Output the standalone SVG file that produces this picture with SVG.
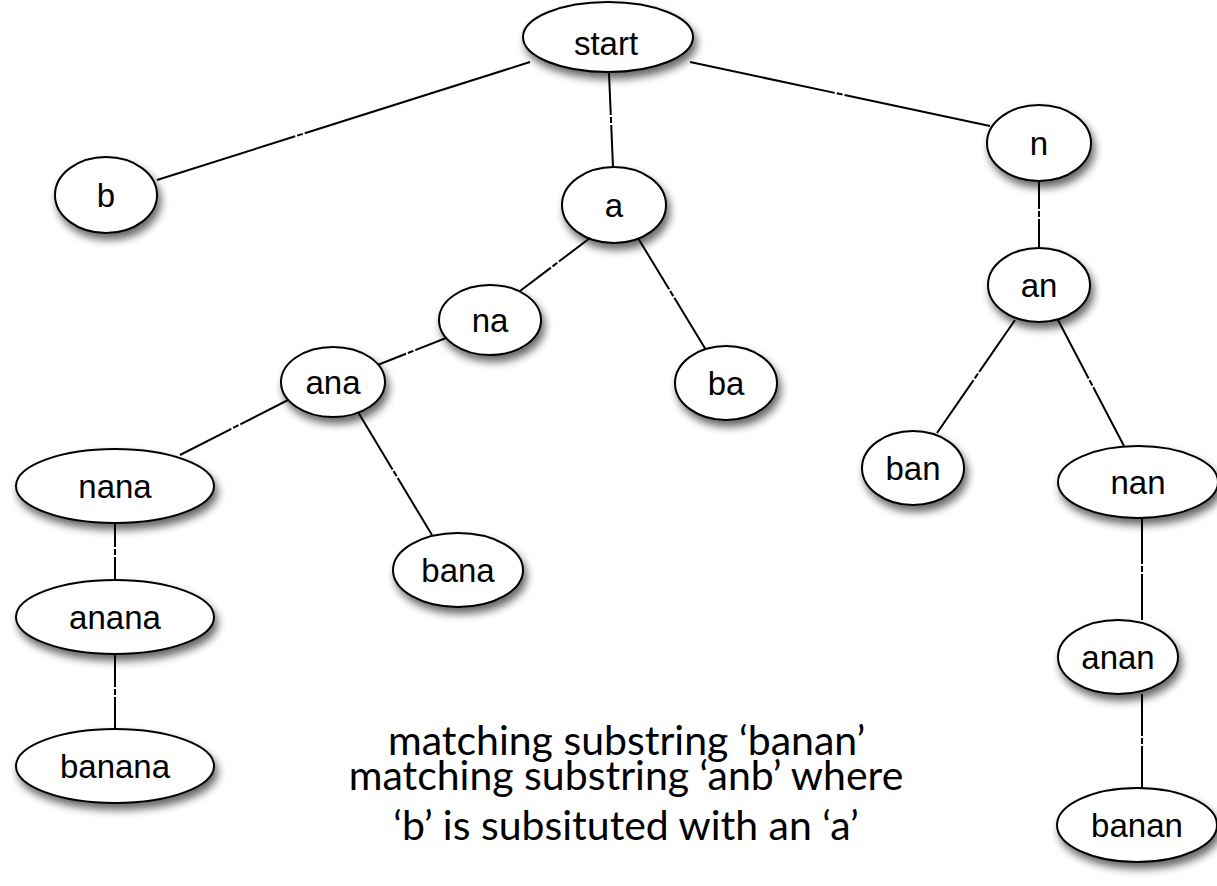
<svg xmlns="http://www.w3.org/2000/svg" width="1217" height="886" viewBox="0 0 1217 886">
  <style>
    .edge { stroke: #000; stroke-width: 2; fill: none; }
    .node ellipse { fill: #fff; stroke: #000; stroke-width: 2; filter: url(#shadow); }
    .node text { font-family: "Liberation Sans", Arial, sans-serif; font-size: 33px; fill: #000; text-anchor: middle; }
    .caption { font-family: Lato, "Open Sans", sans-serif; font-size: 41px; fill: #000; }
    .mid { text-anchor: middle; }
  </style>
  <defs>
    <filter id="shadow" x="-30%" y="-30%" width="160%" height="170%">
      <feGaussianBlur in="SourceAlpha" stdDeviation="4"/>
      <feOffset dx="3" dy="6" result="blur"/>
      <feComponentTransfer><feFuncA type="linear" slope="0.6"/></feComponentTransfer>
      <feMerge><feMergeNode/><feMergeNode in="SourceGraphic"/></feMerge>
    </filter>
  </defs>
  <rect width="1217" height="886" fill="#fff"/>

  <!-- tree edges, each with a small break near its middle -->
  <g id="edges">
    <line class="edge" x1="157" y1="180" x2="530" y2="62" stroke-dasharray="145 2 6 2 1000"/>
    <line class="edge" x1="609" y1="73" x2="613" y2="167" stroke-dasharray="42 2 6 2 1000"/>
    <line class="edge" x1="690" y1="62" x2="990" y2="126" stroke-dasharray="148 2 6 2 1000"/>
    <line class="edge" x1="590" y1="238" x2="520" y2="291" stroke-dasharray="39 2 6 2 1000"/>
    <line class="edge" x1="638" y1="238" x2="706" y2="350" stroke-dasharray="60 2 6 2 1000"/>
    <line class="edge" x1="446" y1="338" x2="375" y2="366" stroke-dasharray="33 2 6 2 1000"/>
    <line class="edge" x1="292" y1="398" x2="180" y2="455" stroke-dasharray="58 2 6 2 1000"/>
    <line class="edge" x1="358" y1="412" x2="432" y2="535" stroke-dasharray="67 2 6 2 1000"/>
    <line class="edge" x1="115" y1="523" x2="115" y2="581" stroke-dasharray="24 2 6 2 1000"/>
    <line class="edge" x1="115" y1="654" x2="115" y2="730" stroke-dasharray="33 2 6 2 1000"/>
    <line class="edge" x1="1039" y1="181" x2="1039" y2="247" stroke-dasharray="28 2 6 2 1000"/>
    <line class="edge" x1="1015" y1="320" x2="937" y2="433" stroke-dasharray="63 2 6 2 1000"/>
    <line class="edge" x1="1058" y1="320" x2="1124" y2="446" stroke-dasharray="66 2 6 2 1000"/>
    <line class="edge" x1="1142" y1="518" x2="1142" y2="620" stroke-dasharray="46 2 6 2 1000"/>
    <line class="edge" x1="1142" y1="694" x2="1142" y2="789" stroke-dasharray="42 2 6 2 1000"/>
  </g>

  <g id="node-start" class="node"><ellipse cx="608" cy="37" rx="85" ry="35"/><text x="606" y="55">start</text></g>
  <g id="node-b" class="node"><ellipse cx="106" cy="195" rx="51" ry="38"/><text x="106" y="207">b</text></g>
  <g id="node-a" class="node"><ellipse cx="614" cy="205" rx="52" ry="38"/><text x="614" y="217">a</text></g>
  <g id="node-n" class="node"><ellipse cx="1039" cy="143" rx="52" ry="38"/><text x="1039" y="155">n</text></g>
  <g id="node-na" class="node"><ellipse cx="490" cy="320" rx="51" ry="35"/><text x="490" y="332">na</text></g>
  <g id="node-ba" class="node"><ellipse cx="726" cy="383" rx="51" ry="37"/><text x="726" y="395">ba</text></g>
  <g id="node-ana" class="node"><ellipse cx="333" cy="382" rx="52" ry="35"/><text x="333" y="394">ana</text></g>
  <g id="node-an" class="node"><ellipse cx="1039" cy="285" rx="51" ry="37"/><text x="1039" y="297">an</text></g>
  <g id="node-ban" class="node"><ellipse cx="913" cy="468" rx="51" ry="37"/><text x="913" y="480">ban</text></g>
  <g id="node-nan" class="node"><ellipse cx="1138" cy="482" rx="80" ry="36"/><text x="1138" y="494">nan</text></g>
  <g id="node-nana" class="node"><ellipse cx="115" cy="486" rx="99" ry="37"/><text x="115" y="498">nana</text></g>
  <g id="node-bana" class="node"><ellipse cx="458" cy="570" rx="65" ry="37"/><text x="458" y="582">bana</text></g>
  <g id="node-anana" class="node"><ellipse cx="115" cy="617" rx="99" ry="37"/><text x="115" y="629">anana</text></g>
  <g id="node-anan" class="node"><ellipse cx="1118" cy="657" rx="60" ry="37"/><text x="1118" y="669">anan</text></g>
  <g id="node-banana" class="node"><ellipse cx="115" cy="766" rx="99" ry="37"/><text x="115" y="778">banana</text></g>
  <g id="node-banan" class="node"><ellipse cx="1137" cy="825" rx="80" ry="37"/><text x="1137" y="837">banan</text></g>

  <!-- annotation text -->
  <g id="caption">
    <text class="caption" x="388" y="755">matching substring ‘banan’</text>
    <text class="caption mid" x="626" y="790">matching substring ‘anb’ where</text>
    <text class="caption mid" x="626" y="840">‘b’ is subsituted with an ‘a’</text>
  </g>
</svg>
